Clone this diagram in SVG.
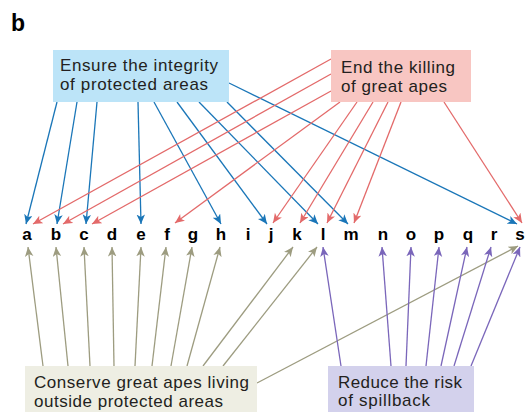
<svg xmlns="http://www.w3.org/2000/svg" width="525" height="412" viewBox="0 0 525 412">
<defs>
<style>
.box text{font-family:"Liberation Sans",Arial,sans-serif;font-size:17px;fill:#231f20}
.lbl{font-family:"Liberation Sans",Arial,sans-serif;font-size:17px;font-weight:bold;fill:#000;text-anchor:middle}
.bl{stroke:#1a76b8;stroke-width:1.3;fill:none;marker-end:url(#ab)}
.rd{stroke:#e36a6a;stroke-width:1.3;fill:none;marker-end:url(#ar)}
.ol{stroke:#9d9c80;stroke-width:1.3;fill:none;marker-end:url(#ao)}
.pu{stroke:#7a66ba;stroke-width:1.3;fill:none;marker-end:url(#ap)}
</style>
<marker id="ab" markerUnits="userSpaceOnUse" markerWidth="11" markerHeight="10" refX="9.5" refY="4.25" orient="auto"><path d="M0,0 L9.5,4.25 L0,8.5 L2.5,4.25 z" fill="#1a76b8"/></marker>
<marker id="ar" markerUnits="userSpaceOnUse" markerWidth="11" markerHeight="10" refX="9.5" refY="4.25" orient="auto"><path d="M0,0 L9.5,4.25 L0,8.5 L2.5,4.25 z" fill="#e36a6a"/></marker>
<marker id="ao" markerUnits="userSpaceOnUse" markerWidth="11" markerHeight="10" refX="9.5" refY="4.25" orient="auto"><path d="M0,0 L9.5,4.25 L0,8.5 L2.5,4.25 z" fill="#9d9c80"/></marker>
<marker id="ap" markerUnits="userSpaceOnUse" markerWidth="11" markerHeight="10" refX="9.5" refY="4.25" orient="auto"><path d="M0,0 L9.5,4.25 L0,8.5 L2.5,4.25 z" fill="#7a66ba"/></marker>
</defs>
<rect width="525" height="412" fill="#ffffff"/>
<text x="11" y="31" font-family="Liberation Sans,Arial,sans-serif" font-size="23" font-weight="bold" fill="#000">b</text>

<g id="connectors">
<g id="blue-links">
<line class="bl" x1="57" y1="102" x2="26" y2="224"/>
<line class="bl" x1="77" y1="102" x2="57" y2="224"/>
<line class="bl" x1="97" y1="102" x2="86" y2="224"/>
<line class="bl" x1="138" y1="102" x2="141" y2="224"/>
<line class="bl" x1="154" y1="102" x2="221" y2="224"/>
<line class="bl" x1="177" y1="102" x2="267" y2="224"/>
<line class="bl" x1="199" y1="102" x2="318" y2="224"/>
<line class="bl" x1="227" y1="102" x2="348" y2="224"/>
<line class="bl" x1="229" y1="83" x2="517" y2="224"/>
</g>
<g id="red-links">
<line class="rd" x1="331" y1="59" x2="33" y2="224"/>
<line class="rd" x1="331" y1="74" x2="63" y2="224"/>
<line class="rd" x1="331" y1="91" x2="92" y2="224"/>
<line class="rd" x1="340" y1="102" x2="175" y2="223"/>
<line class="rd" x1="357" y1="102" x2="273" y2="223"/>
<line class="rd" x1="373" y1="102" x2="300" y2="223"/>
<line class="rd" x1="388" y1="102" x2="327" y2="223"/>
<line class="rd" x1="401" y1="102" x2="354" y2="223"/>
<line class="rd" x1="444" y1="102" x2="522" y2="223"/>
</g>
<g id="olive-links">
<line class="ol" x1="43" y1="366" x2="28" y2="247"/>
<line class="ol" x1="68" y1="366" x2="56" y2="247"/>
<line class="ol" x1="90" y1="366" x2="84" y2="247"/>
<line class="ol" x1="114" y1="366" x2="112" y2="247"/>
<line class="ol" x1="135" y1="366" x2="141" y2="247"/>
<line class="ol" x1="152" y1="366" x2="166" y2="247"/>
<line class="ol" x1="171" y1="366" x2="192" y2="247"/>
<line class="ol" x1="187" y1="366" x2="220" y2="247"/>
<line class="ol" x1="203" y1="366" x2="293" y2="247"/>
<line class="ol" x1="223" y1="366" x2="317" y2="247"/>
<line class="ol" x1="257" y1="383" x2="518" y2="246"/>
</g>
<g id="purple-links">
<line class="pu" x1="341" y1="366" x2="323" y2="247"/>
<line class="pu" x1="391" y1="366" x2="382" y2="247"/>
<line class="pu" x1="406" y1="366" x2="411" y2="247"/>
<line class="pu" x1="426" y1="366" x2="439" y2="247"/>
<line class="pu" x1="441" y1="366" x2="467" y2="247"/>
<line class="pu" x1="454" y1="366" x2="491" y2="247"/>
<line class="pu" x1="471" y1="366" x2="520" y2="247"/>
</g>
</g>

<g id="node-protected" class="box">
<rect x="53" y="50" width="176" height="52" fill="#bce4f8"/>
<text x="60" y="70.5" textLength="158" lengthAdjust="spacing">Ensure the integrity</text>
<text x="60" y="89.5" textLength="148" lengthAdjust="spacing">of protected areas</text>
</g>
<g id="node-killing" class="box">
<rect x="331" y="50" width="140" height="52" fill="#f8c6c2"/>
<text x="341" y="73" textLength="114" lengthAdjust="spacing">End the killing</text>
<text x="341" y="92" textLength="106" lengthAdjust="spacing">of great apes</text>
</g>
<g id="node-conserve" class="box">
<rect x="25" y="366" width="232" height="46" fill="#eeeee3"/>
<text x="34" y="388" textLength="215" lengthAdjust="spacing">Conserve great apes living</text>
<text x="34" y="406.5" textLength="189" lengthAdjust="spacing">outside protected areas</text>
</g>
<g id="node-spillback" class="box">
<rect x="328" y="366" width="146" height="46" fill="#d3d1ec"/>
<text x="338" y="388" textLength="124" lengthAdjust="spacing">Reduce the risk</text>
<text x="338" y="406" textLength="92" lengthAdjust="spacing">of spillback</text>
</g>

<g id="letters">
<text class="lbl" x="27" y="240">a</text>
<text class="lbl" x="56" y="240">b</text>
<text class="lbl" x="84" y="240">c</text>
<text class="lbl" x="112" y="240">d</text>
<text class="lbl" x="141" y="240">e</text>
<text class="lbl" x="167" y="240">f</text>
<text class="lbl" x="193" y="240">g</text>
<text class="lbl" x="221" y="240">h</text>
<text class="lbl" x="248" y="240">i</text>
<text class="lbl" x="271" y="240">j</text>
<text class="lbl" x="297" y="240">k</text>
<text class="lbl" x="323" y="240">l</text>
<text class="lbl" x="351" y="240">m</text>
<text class="lbl" x="383" y="240">n</text>
<text class="lbl" x="411" y="240">o</text>
<text class="lbl" x="439" y="240">p</text>
<text class="lbl" x="468" y="240">q</text>
<text class="lbl" x="494" y="240">r</text>
<text class="lbl" x="520" y="240">s</text>
</g>
</svg>
